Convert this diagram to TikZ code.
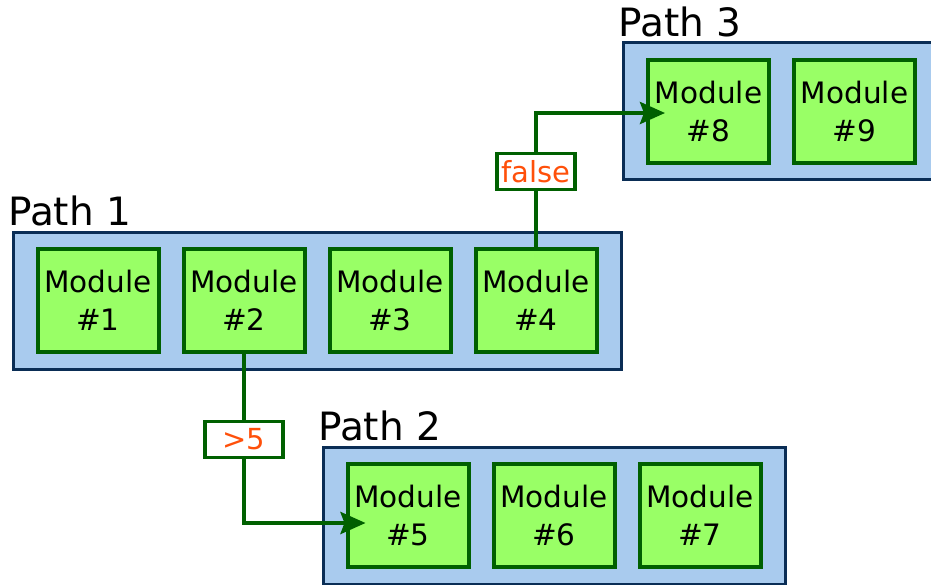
\documentclass[tikz,border=0pt]{standalone}
\usepackage{fontspec}
\setmainfont{DejaVu Sans}
\usetikzlibrary{chains}
\usetikzlibrary{fit}
\usetikzlibrary{backgrounds}
\usetikzlibrary{arrows.meta}
\definecolor{modfill}{RGB}{153,255,102}
\definecolor{moddraw}{RGB}{0,96,0}
\definecolor{pathfill}{RGB}{169,203,238}
\definecolor{pathdraw}{RGB}{10,45,85}
\definecolor{condtext}{RGB}{255,80,10}

\begin{document}
\begin{tikzpicture}[
			node distance=25pt,
			every on chain/.style={
				module,
			},
			module/.style={
				line width=4pt,
				draw=moddraw,
				fill=modfill,
				font=\fontsize{29.5}{38}\selectfont,
				align=center,
				minimum width=121pt,
				minimum height=103pt,
				inner sep=0pt,
				outer sep=0pt,
			},
			pathbox/.style={
				line width=3pt,
				draw=pathdraw,
				fill=pathfill,
				inner xsep=24.5pt,
				inner ysep=17pt,
				outer sep=0pt,
			},
			pathtitle/.style={
				font=\fontsize{39}{40}\selectfont,
				anchor=base west,
				inner sep=0pt,
			},
			cond/.style={
				line width=3.5pt,
				draw=moddraw,
				fill=white,
				text=condtext,
				font=\fontsize{29}{30}\selectfont,
				minimum width=78pt,
				minimum height=36pt,
				inner sep=0pt,
			},
			link/.style={
				line width=4pt,
				draw=moddraw,
			},
			arrow/.style={
				link,
				-{Stealth[length=25pt,width=22pt,inset=4pt]},
			},
			]
			\useasboundingbox (0pt,0pt) rectangle (931pt,-584pt);
			%% Path 1
			\begin{scope}[start chain=going right]
				\node [on chain] (m1) at (98pt,-300.5pt) {Module\\\#1};
				\node [on chain] (m2) {Module\\\#2};
				\node [on chain] (m3) {Module\\\#3};
				\node [on chain] (m4) {Module\\\#4};
			\end{scope}
			%% Path 2
			\begin{scope}[start chain=going right]
				\node [on chain] (m5) at (408pt,-515.5pt) {Module\\\#5};
				\node [on chain] (m6) {Module\\\#6};
				\node [on chain] (m7) {Module\\\#7};
			\end{scope}
			%% Path 3
			\begin{scope}[start chain=going right]
				\node [on chain] (m8) at (708.5pt,-111pt) {Module\\\#8};
				\node [on chain] (m9) {Module\\\#9};
			\end{scope}
			\begin{pgfonlayer}{background}
				\node [pathbox, fit=(m1)(m4)] (p1) {};
				\node [pathbox, fit=(m5)(m7)] (p2) {};
				\node [pathbox, fit=(m8)(m9)] (p3) {};
			\end{pgfonlayer}
			\node [pathtitle] (t1) at ([shift={(-5pt,6.5pt)}]p1.north west) {Path 1};
			\node [pathtitle] (t2) at ([shift={(-5pt,6.5pt)}]p2.north west) {Path 2};
			\node [pathtitle] (t3) at ([shift={(-5pt,6.5pt)}]p3.north west) {Path 3};
			%% Conditions
			\coordinate (in5) at ([shift={(18pt,-7.5pt)}]m5.west);
			\coordinate (in8) at ([shift={(17pt,-2pt)}]m8.west);
			\node [cond] (c1) at (m2.south |- 0,-439.5pt) {>5};
			\node [cond] (c2) at (m4.north |- 0,-171.5pt) {false};
			\draw [link] (m2.south) -- (c1.north);
			\draw [arrow] (c1.south) |- (in5);
			\draw [link] (m4.north) -- (c2.south);
			\draw [arrow] (c2.north) |- (in8);
		\end{tikzpicture}
\end{document}
